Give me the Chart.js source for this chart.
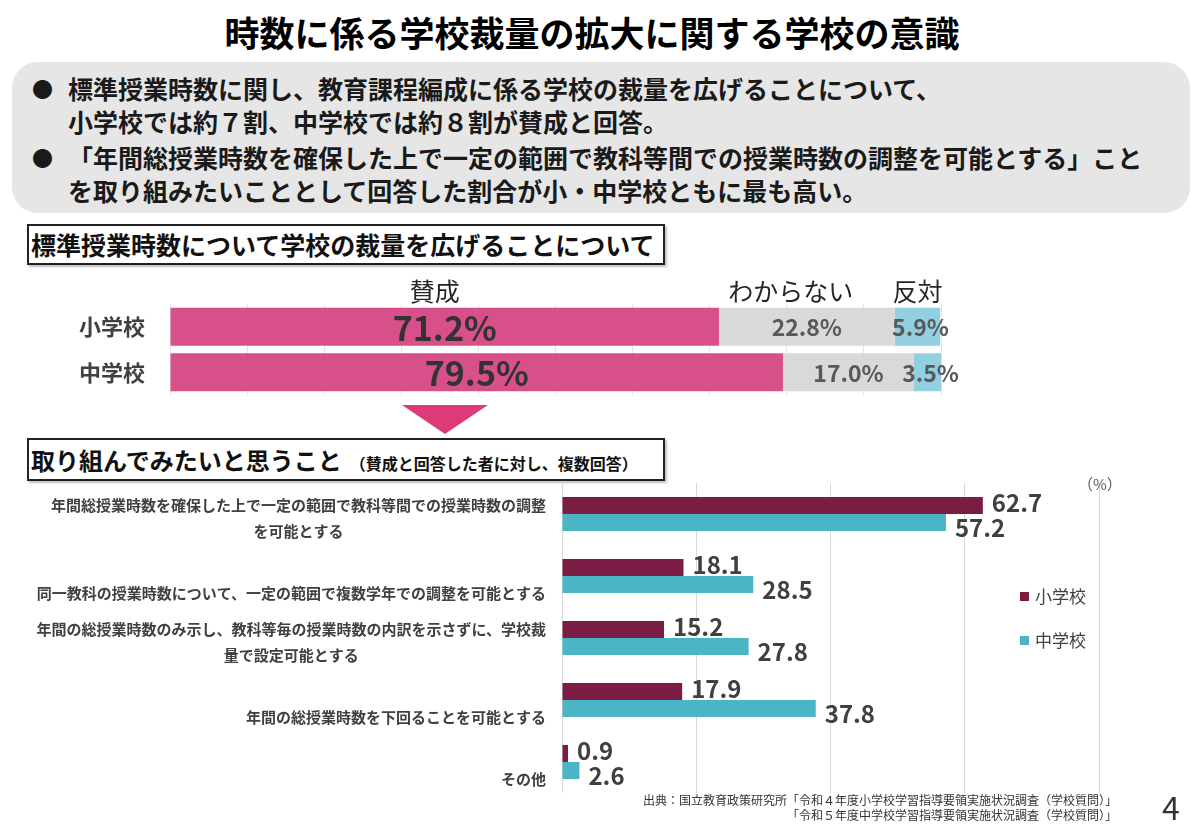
<!DOCTYPE html>
<html><head><meta charset="utf-8">
<script src="https://cdn.jsdelivr.net/npm/chart.js@4.4.1/dist/chart.umd.min.js"></script>
<style>
body{margin:0;background:#fff;font-family:"Noto Sans CJK JP","Noto Sans",sans-serif;}
#page{position:relative;width:1200px;height:831px;overflow:hidden;background:#fff;}
.abs{position:absolute;white-space:nowrap;}
#title{left:0;width:1184px;top:9px;text-align:center;font-size:35px;font-weight:700;color:#000;line-height:46px;}
#summary{left:12px;top:62px;width:1178px;height:151px;background:#e7e6e6;border-radius:26px;}
.bl{font-size:25px;font-weight:700;color:#1a1a1a;line-height:34px;}
.bu{font-size:21px;font-weight:700;color:#1a1a1a;line-height:34px;}
.box{left:27px;width:632px;border:2px solid #222;box-shadow:2px 2px 2px rgba(0,0,0,0.25);font-weight:700;color:#111;padding-left:2px;background:#fff;}
#tri{left:402px;top:405px;width:0;height:0;border-left:43px solid transparent;border-right:43px solid transparent;border-top:29px solid #dc3a78;}
#pct{left:1078px;top:473px;font-size:15px;color:#595959;}
#legend{left:1020px;top:583px;font-size:17px;color:#404040;}
.li{height:44px;line-height:26px;}
.sw{display:inline-block;width:9px;height:9px;margin-right:6px;vertical-align:middle;position:relative;top:-2px;}
#src{right:83px;top:792px;text-align:right;font-size:12px;line-height:15px;color:#333;}
#pno{left:1162px;top:783px;font-size:32px;color:#333;}
</style></head>
<body><div id="page">
<div id="title" class="abs">時数に係る学校裁量の拡大に関する学校の意識</div>
<div id="summary" class="abs"></div>
<div class="abs bu" style="left:32px;top:71px;">●</div>
<div class="abs bl" style="left:68px;top:71px;">標準授業時数に関し、教育課程編成に係る学校の裁量を広げることについて、</div>
<div class="abs bl" style="left:68px;top:104px;">小学校では約７割、中学校では約８割が賛成と回答。</div>
<div class="abs bu" style="left:32px;top:140px;">●</div>
<div class="abs bl" style="left:68px;top:140px;">「年間総授業時数を確保した上で一定の範囲で教科等間での授業時数の調整を可能とする」こと</div>
<div class="abs bl" style="left:68px;top:173px;">を取り組みたいこととして回答した割合が小・中学校ともに最も高い。</div>

<div class="abs box" style="top:224px;height:37px;font-size:25px;line-height:37px;">標準授業時数について学校の裁量を広げることについて</div>
<div id="tri" class="abs"></div>
<div class="abs box" style="top:438px;height:39px;line-height:39px;"><span style="font-size:24px;">取り組んでみたいと思うこと</span><span style="font-size:16px;margin-left:8px;">（賛成と回答した者に対し、複数回答）</span></div>

<canvas id="c1" class="abs" style="left:0;top:275px;" width="1000" height="125"></canvas>
<canvas id="c2" class="abs" style="left:0;top:470px;" width="1200" height="335"></canvas>

<div id="pct" class="abs">（%）</div>
<div id="legend" class="abs"></div>
<div id="src" class="abs">出典：国立教育政策研究所「令和４年度小学校学習指導要領実施状況調査（学校質問）」<br>「令和５年度中学校学習指導要領実施状況調査（学校質問）」</div>
<div id="pno" class="abs">4</div>
</div>
<script>
// ---- Data: chart 1 (stacked 100%) ----
const schools = ['小学校', '中学校'];
const opinionNames = ['賛成', 'わからない', '反対'];
const agree = [71.2, 79.5];
const unsure = [22.8, 17.0];
const disagree = [5.9, 3.5];

// ---- Data: chart 2 (grouped) ----
const actions = [
  ['年間総授業時数を確保した上で一定の範囲で教科等間での授業時数の調整', 'を可能とする'],
  ['同一教科の授業時数について、一定の範囲で複数学年での調整を可能とする'],
  ['年間の総授業時数のみ示し、教科等毎の授業時数の内訳を示さずに、学校裁', '量で設定可能とする'],
  ['年間の総授業時数を下回ることを可能とする'],
  ['その他']
];
const seriesNames = ['小学校', '中学校'];
const elementary = [62.7, 18.1, 15.2, 17.9, 0.9];
const juniorHigh = [57.2, 28.5, 27.8, 37.8, 2.6];
const xTicks = [0, 20, 40, 60, 80];

const FONT = '"Noto Sans CJK JP","Noto Sans",sans-serif';
Chart.defaults.font.family = FONT;

const c1Colors = ['#d8508a', '#d9d9d9', '#92cfe0'];
const c2Colors = ['#7b1c45', '#4bb5c5'];

// chart 1 labels plugin
const stackLabels = {
  id: 'stackLabels',
  afterDatasetsDraw(chart) {
    const ctx = chart.ctx;
    ctx.save();
    ctx.textBaseline = 'middle';
    ctx.textAlign = 'right';
    ctx.font = '700 22px ' + FONT; ctx.fillStyle = '#404040';
    const m0 = chart.getDatasetMeta(0);
    chart.data.labels.forEach((lab, j) => {
      ctx.fillText(lab, chart.chartArea.left - 25, m0.data[j].y);
    });
    ctx.textAlign = 'center';
    chart.data.datasets.forEach((ds, i) => {
      const meta = chart.getDatasetMeta(i);
      meta.data.forEach((el, j) => {
        const cx = (el.x + el.base) / 2;
        if (i === 0) { ctx.font = '700 34px ' + FONT; ctx.fillStyle = '#333333'; }
        else { ctx.font = '700 23px ' + FONT; ctx.fillStyle = '#595959'; }
        ctx.fillText(ds.data[j].toFixed(1) + '%', cx + (i === 2 ? 3 : 0), el.y + 1);
        if (j === 0) {
          ctx.font = '400 25px ' + FONT; ctx.fillStyle = '#262626';
          ctx.fillText(ds.label, cx - (i === 0 ? 10 : (i === 1 ? 16 : 0)), el.y - el.height / 2 - 16);
        }
      });
    });
    ctx.restore();
  }
};

new Chart(document.getElementById('c1'), {
  type: 'bar',
  data: {
    labels: schools,
    datasets: [agree, unsure, disagree].map((d, i) => ({
      label: opinionNames[i], data: d, backgroundColor: c1Colors[i], borderWidth: 0,
      barPercentage: 0.835, categoryPercentage: 1
    }))
  },
  options: {
    indexAxis: 'y', responsive: false, animation: false, devicePixelRatio: 1,
    layout: { padding: { top: 29, bottom: 5, left: 0, right: 59 } },
    plugins: { legend: { display: false }, tooltip: { enabled: false } },
    scales: {
      x: { stacked: true, min: 0, max: 100, ticks: { display: false, stepSize: 10 },
           grid: { color: '#e3e3e3', drawTicks: false }, border: { display: false },
           afterFit(s) { s.height = 0; } },
      y: { stacked: true, grid: { display: false, drawTicks: false }, border: { display: false },
           ticks: { display: false },
           afterFit(s) { s.width = 170; } }
    }
  },
  plugins: [stackLabels]
});

// chart 2 plugins
const catLabels = {
  id: 'catLabels',
  afterDraw(chart) {
    const ctx = chart.ctx;
    const lastMeta = chart.getDatasetMeta(chart.data.datasets.length - 1);
    const right = chart.chartArea.left - 16;
    ctx.save();
    ctx.font = '700 15px ' + FONT;
    ctx.fillStyle = '#404040';
    ctx.textBaseline = 'middle';
    ctx.textAlign = 'center';
    chart.data.labels.forEach((lines, i) => {
      const el = lastMeta.data[i];
      const bottom = el.y + el.height / 2;
      const w = Math.max(...lines.map(l => ctx.measureText(l).width));
      const cx = right - w / 2;
      lines.forEach((l, k) => {
        ctx.fillText(l, cx, bottom - (lines.length - 1 - k) * 26);
      });
    });
    ctx.restore();
  }
};
const valLabels = {
  id: 'valLabels',
  afterDatasetsDraw(chart) {
    const ctx = chart.ctx;
    ctx.save();
    ctx.font = '700 24px ' + FONT;
    ctx.fillStyle = '#404040';
    ctx.textBaseline = 'middle';
    ctx.textAlign = 'left';
    chart.data.datasets.forEach((ds, i) => {
      chart.getDatasetMeta(i).data.forEach((el, j) => {
        ctx.fillText(ds.data[j].toFixed(1), el.x + 9, el.y + (i === 0 ? -3 : 5));
      });
    });
    ctx.restore();
  }
};

const chart2 = new Chart(document.getElementById('c2'), {
  type: 'bar',
  data: {
    labels: actions,
    datasets: [elementary, juniorHigh].map((d, i) => ({
      label: seriesNames[i], data: d, backgroundColor: c2Colors[i], borderWidth: 0,
      barPercentage: 1, categoryPercentage: 0.55
    }))
  },
  options: {
    indexAxis: 'y', responsive: false, animation: false, devicePixelRatio: 1,
    layout: { padding: { top: 13, bottom: 12, left: 0, right: 101 } },
    plugins: { legend: { display: false }, tooltip: { enabled: false } },
    scales: {
      x: { min: xTicks[0], max: xTicks[xTicks.length - 1],
           afterBuildTicks(s) { s.ticks = xTicks.map(v => ({ value: v })); },
           ticks: { display: false }, grid: { color: '#d9d9d9', drawTicks: false },
           border: { display: false }, afterFit(s) { s.height = 0; } },
      y: { grid: { display: false, drawTicks: false }, border: { display: false },
           ticks: { display: false }, afterFit(s) { s.width = 562; } }
    }
  },
  plugins: [catLabels, valLabels]
});

// HTML legend from datasets
const lg = document.getElementById('legend');
chart2.data.datasets.forEach(ds => {
  const d = document.createElement('div');
  d.className = 'li';
  d.innerHTML = '<span class="sw" style="background:' + ds.backgroundColor + '"></span>' + ds.label;
  lg.appendChild(d);
});
</script>
</body></html>
